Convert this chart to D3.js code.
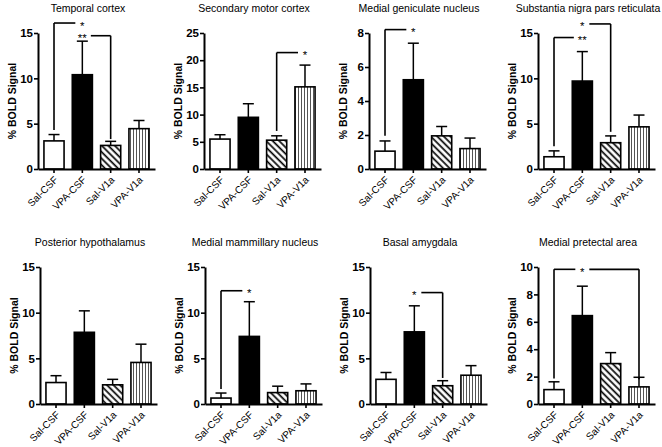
<!DOCTYPE html>
<html><head><meta charset="utf-8">
<script src="https://cdn.jsdelivr.net/npm/d3@7"></script>
<style>body{margin:0;background:#fff}svg{display:block}</style>
</head><body>
<svg id="c" width="662" height="447"></svg>
<script>
const categories = ["Sal-CSF", "VPA-CSF", "Sal-V1a", "VPA-V1a"];
const titles = ["Temporal cortex", "Secondary motor cortex", "Medial geniculate nucleus", "Substantia nigra pars reticulata",
  "Posterior hypothalamus", "Medial mammillary nucleus", "Basal amygdala", "Medial pretectal area"];
const yMax = [15, 25, 8, 15, 15, 15, 15, 10];
const yStep = [5, 5, 2, 5, 5, 5, 5, 2];
const means = [
  [3.1, 10.4, 2.6, 4.45],
  [5.5, 9.5, 5.3, 15.1],
  [1.05, 5.25, 1.95, 1.2],
  [1.35, 9.7, 2.9, 4.65],
  [2.35, 7.85, 2.1, 4.55],
  [0.65, 7.4, 1.25, 1.45],
  [2.7, 7.9, 2.0, 3.15],
  [1.05, 6.45, 2.95, 1.25]
];
const sems = [
  [0.7, 3.7, 0.45, 0.9],
  [0.8, 2.5, 0.8, 4.0],
  [0.6, 2.15, 0.55, 0.62],
  [0.65, 3.25, 0.75, 1.3],
  [0.75, 2.35, 0.6, 2.0],
  [0.55, 3.8, 0.7, 0.75],
  [0.75, 2.85, 0.55, 1.05],
  [0.57, 2.15, 0.8, 0.7]
];
// significance brackets: from/to/at are category indices, level/drops are data values
const brackets = [
  [{from: 0, to: 1, level: 16.1, dropFrom: 4.3, dropTo: null, label: "*", at: 1},
   {from: 1, to: 2, level: 14.7, dropFrom: null, dropTo: 3.3, label: "**", at: 1}],
  [{from: 2, to: 3, level: 21.4, dropFrom: 7.0, dropTo: null, label: "*", at: 3}],
  [{from: 0, to: 1, level: 8.2, dropFrom: 1.95, dropTo: null, label: "*", at: 1}],
  [{from: 1, to: 2, level: 16.0, dropFrom: null, dropTo: 4.1, label: "*", at: 1},
   {from: 0, to: 1, level: 14.5, dropFrom: 2.5, dropTo: null, label: "**", at: 1}],
  [],
  [{from: 0, to: 1, level: 12.4, dropFrom: 1.65, dropTo: null, label: "*", at: 1}],
  [{from: 1, to: 2, level: 12.2, dropFrom: null, dropTo: 2.85, label: "*", at: 1}],
  [{from: 0, to: 3, level: 9.83, dropFrom: 1.86, dropTo: 1.8, label: "*", at: 1}]
];

// layout
const colX = [[38, 204, 369, 538], [40, 205, 370, 538]];
const rowTop = [33, 267], rowBottom = [169, 404], rowTitle = [12, 246];
const FONT = "Arial, 'Liberation Sans', sans-serif";

const svg = d3.select("#c");
svg.append("rect").attr("width", 662).attr("height", 447).attr("fill", "#fff");
const defs = svg.append("defs");
const p1 = defs.append("pattern").attr("id", "diag").attr("patternUnits", "userSpaceOnUse")
  .attr("width", 4.6).attr("height", 4.6).attr("patternTransform", "rotate(-45)");
p1.append("rect").attr("width", 4.6).attr("height", 4.6).attr("fill", "#fff");
p1.append("line").attr("x1", 1.2).attr("x2", 1.2).attr("y1", 0).attr("y2", 4.6)
  .attr("stroke", "#000").attr("stroke-width", 1.7);
const p2 = defs.append("pattern").attr("id", "vert").attr("patternUnits", "userSpaceOnUse")
  .attr("width", 3).attr("height", 3);
p2.append("rect").attr("width", 3).attr("height", 3).attr("fill", "#fff");
p2.append("line").attr("x1", 1.5).attr("x2", 1.5).attr("y1", 0).attr("y2", 3)
  .attr("stroke", "#555").attr("stroke-width", 1);
const fills = ["#fff", "#000", "url(#diag)", "url(#vert)"];

titles.forEach((title, i) => {
  const row = Math.floor(i / 4), col = i % 4;
  const ax = colX[row][col];
  const yB = rowBottom[row], yT = rowTop[row];
  const x = d3.scaleBand().domain(categories).range([ax, ax + 117]).paddingInner(0.29).paddingOuter(0.21);
  const y = d3.scaleLinear().domain([0, yMax[i]]).range([yB, yT]);
  const g = svg.append("g");
  const data = categories.map((c, k) => ({c, k, m: means[i][k], e: sems[i][k]}));

  // error bars (upper only)
  const eb = g.append("g").attr("stroke", "#000").attr("stroke-width", 1.5);
  data.forEach(d => {
    const cx = x(d.c) + x.bandwidth() / 2;
    eb.append("line").attr("x1", cx).attr("x2", cx).attr("y1", y(d.m)).attr("y2", y(d.m + d.e));
    eb.append("line").attr("x1", cx - 5.5).attr("x2", cx + 5.5).attr("y1", y(d.m + d.e)).attr("y2", y(d.m + d.e));
  });
  // bars
  g.append("g").selectAll("rect").data(data).join("rect")
    .attr("x", d => x(d.c)).attr("width", x.bandwidth())
    .attr("y", d => y(d.m)).attr("height", d => y(0) - y(d.m))
    .attr("fill", d => fills[d.k]).attr("stroke", "#000").attr("stroke-width", 1.6);

  // y axis
  const ya = g.append("g").attr("transform", `translate(${ax},0)`)
    .call(d3.axisLeft(y).tickValues(d3.range(0, yMax[i] + 0.001, yStep[i])).tickFormat(d3.format("d"))
      .tickSize(4).tickSizeOuter(0).tickPadding(1));
  ya.select(".domain").attr("stroke-width", 2);
  ya.selectAll(".tick line").attr("stroke-width", 1.6);
  ya.selectAll(".tick text").attr("font-family", FONT).attr("font-size", 11.5).attr("font-weight", "bold").attr("fill", "#000");

  // x axis
  const xa = g.append("g").attr("transform", `translate(0,${yB})`)
    .call(d3.axisBottom(x).tickSize(4).tickSizeOuter(0));
  xa.select(".domain").attr("stroke-width", 2);
  xa.selectAll(".tick line").attr("stroke-width", 1.6);
  xa.selectAll(".tick text").attr("font-family", FONT).attr("font-size", 10).attr("fill", "#000")
    .attr("x", 0).attr("y", 0).attr("dy", "0.35em")
    .attr("transform", "translate(2,9) rotate(-45)").style("text-anchor", "end");

  // title
  g.append("text").attr("x", ax + 50).attr("y", rowTitle[row]).attr("text-anchor", "middle")
    .attr("font-family", FONT).attr("font-size", 10.5).text(title);
  // y label
  g.append("text").attr("transform", `translate(${ax - 22},${(yB + yT) / 2}) rotate(-90)`)
    .attr("text-anchor", "middle").attr("font-family", FONT).attr("font-size", 10.5)
    .attr("font-weight", "bold").text("% BOLD Signal");

  // brackets
  const bg = g.append("g").attr("stroke", "#000").attr("stroke-width", 1.6).attr("fill", "none");
  brackets[i].forEach(b => {
    const cx = k => x(categories[k]) + x.bandwidth() / 2;
    const xs = cx(b.from), xe = cx(b.to), xst = cx(b.at), ly = y(b.level);
    const gap = b.label.length > 1 ? 8.5 : 7;
    const segs = [];
    if (xst <= xs) segs.push([xst + gap, xe]);
    else if (xst >= xe) segs.push([xs, xst - gap]);
    else { segs.push([xs, xst - gap]); segs.push([xst + gap, xe]); }
    segs.forEach(s => bg.append("line").attr("x1", s[0]).attr("x2", s[1]).attr("y1", ly).attr("y2", ly));
    if (b.dropFrom !== null) bg.append("line").attr("x1", xs).attr("x2", xs).attr("y1", ly).attr("y2", y(b.dropFrom));
    if (b.dropTo !== null) bg.append("line").attr("x1", xe).attr("x2", xe).attr("y1", ly).attr("y2", y(b.dropTo));
    g.append("text").attr("x", xst).attr("y", ly + 6.5).attr("text-anchor", "middle")
      .attr("font-family", FONT).attr("font-size", 11.5).text(b.label);
  });
});
</script>
</body></html>
